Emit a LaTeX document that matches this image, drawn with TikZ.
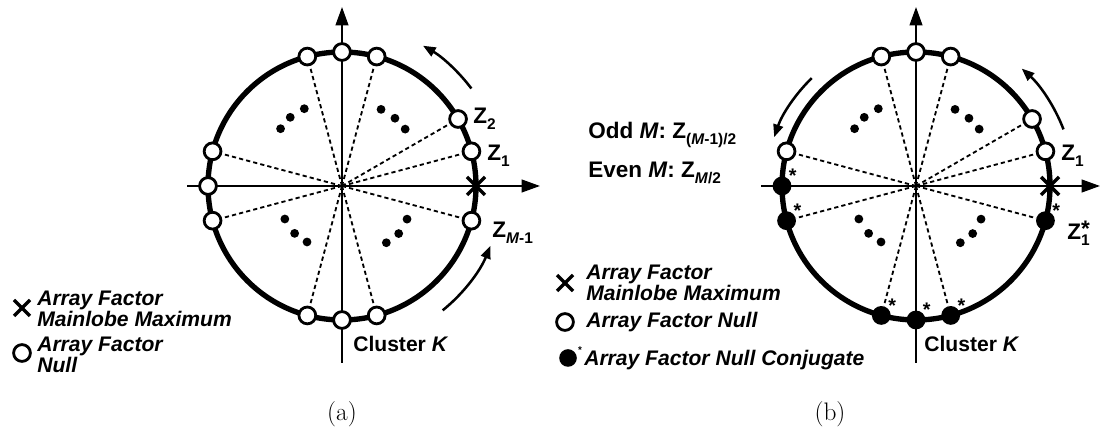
\documentclass[tikz,border=0pt]{standalone}
\usepackage{fontspec}
\usetikzlibrary{arrows.meta}
\newfontfamily\labelFont{Liberation Sans}
\tikzstyle{plane} = [x = 0.025cm, y = 0.025cm]
\tikzstyle{unitCircle} = [line width = 3.8pt]
\tikzstyle{axisLine} = [line width = 1.4pt, -{Triangle[length = 13pt, width = 9pt]}]
\tikzstyle{rayLine} = [line width = 1.3pt, dash pattern = on 3pt off 2.2pt]
\tikzstyle{turnArrow} = [line width = 1.8pt, -{Triangle[length = 9pt, width = 7pt]}]
\tikzstyle{nullStyle} = [circle, draw, fill = white, line width = 2pt, minimum size = .42cm, inner sep = 0pt]
\tikzstyle{conjugateStyle} = [circle, fill = black, minimum size = .47cm, inner sep = 0pt]
\tikzstyle{crossStyle} = [line width = 2.5pt]
\tikzstyle{zLabel} = [font = \labelFont\fontsize{16}{18}\selectfont\bfseries, inner sep = 0pt, anchor = base west]
\tikzstyle{clusterText} = [font = \labelFont\fontsize{15}{18}\selectfont\bfseries, inner sep = 0pt, anchor = west]
\tikzstyle{legendText} = [font = \labelFont\fontsize{15}{12.5}\selectfont\bfseries\itshape, align = left, inner sep = 0pt, anchor = west]
\tikzstyle{starText} = [font = \labelFont\fontsize{14}{14}\selectfont\bfseries, inner sep = 0pt]
\tikzstyle{captionText} = [font = \fontsize{18}{20}\selectfont, inner sep = 0pt]
\newcommand{\circleRadius}{134}
\newcommand{\zSub}[1]{\raisebox{-.5ex}{\fontsize{11}{11}\selectfont #1}}
\newcommand{\nullPoint}[2]{\node [nullStyle] (#1) at (#2:\circleRadius) {};}
\newcommand{\conjugatePoint}[2]{
  \node [conjugateStyle] (#1) at (#2:\circleRadius) {};
  \node [starText] (#1Star) at ([xshift = .27cm, yshift = .25cm]#1) {*};
}
\newcommand{\ray}[1]{\draw [rayLine] (origin) -- (#1);}
\newcommand{\crossMark}[2]{
  \draw [crossStyle] (#1) ++(-#2, -#2) -- ++(2 * #2, 2 * #2);
  \draw [crossStyle] (#1) ++(-#2, #2) -- ++(2 * #2, -2 * #2);
}
\newcommand{\clusterDots}{
  \foreach \dotAngle/\dotRadius in {42/85, 52/86, 63/86, 116/86, 127/86, 137/84, 210/66, 225/67, 238/66, 308/72, 320/74, 333/73} {
    \fill (\dotAngle:\dotRadius) circle (.11cm);
  }
}
\newcommand{\planeAxes}[1]{
  \draw [axisLine] (0, -177) -- (0, 179);
  \draw [axisLine] (-155, 0) -- (#1, 0);
}

\begin{document}
\begin{tikzpicture}[plane]
  \useasboundingbox (0, 0) rectangle (1104, 432);

  \begin{scope}[shift = {(342, 246)}, name prefix = a-]
    \coordinate (origin) at (0, 0);
    \planeAxes{198}
    \draw [unitCircle] (origin) circle (\circleRadius);
    \clusterDots
    \foreach \nullName/\nullAngle in {z1/15, z2/30, n75/75, n90/90, n105/105, n165/165, n180/180, n195/195, n255/255, n270/270, n285/285, zm1/345} {
      \nullPoint{\nullName}{\nullAngle}
    }
    \foreach \nullName in {z1, z2, n75, n105, n165, n195, n255, n285, zm1} {
      \ray{\nullName}
    }
    \coordinate (peak) at (0:\circleRadius);
    \crossMark{peak}{9}
    \draw [turnArrow] (37:162) arc (37:60:162);
    \draw [turnArrow] (-51:160) arc (-51:-22:160);
    \node [zLabel] (z2Text) at (131, 62) {Z\zSub{2}};
    \node [zLabel] (z1Text) at (145, 25) {Z\zSub{1}};
    \node [zLabel] (zm1Text) at (150, -52) {Z\zSub{\textit{M}-1}};
    \node [clusterText] (cluster) at (11, -158) {Cluster \textit{K}};
  \end{scope}

  \begin{scope}[shift = {(916, 246)}, name prefix = b-]
    \coordinate (origin) at (0, 0);
    \planeAxes{184}
    \draw [unitCircle] (origin) circle (\circleRadius);
    \clusterDots
    \foreach \nullName/\nullAngle in {z1/15, n30/30, n75/75, n90/90, n105/105, zHalf/165} {
      \nullPoint{\nullName}{\nullAngle}
    }
    \foreach \conjName/\conjAngle in {c180/180, c195/195, c255/255, c270/270, c285/285, z1Conj/345} {
      \conjugatePoint{\conjName}{\conjAngle}
    }
    \foreach \nullName in {z1, n30, n75, n105, zHalf, c195, c255, c285, z1Conj} {
      \ray{\nullName}
    }
    \coordinate (peak) at (0:\circleRadius);
    \crossMark{peak}{9}
    \draw [turnArrow] (21:158) arc (21:48:158);
    \draw [turnArrow] (134:150) arc (134:161:150);
    \node [zLabel, anchor = west] (oddText) at (-328, 51) {Odd \textit{M}: Z\zSub{(\textit{M}-1)/2}};
    \node [zLabel, anchor = west] (evenText) at (-328, 13) {Even \textit{M}: Z\zSub{\textit{M}/2}};
    \node [zLabel] (z1Text) at (145, 25) {Z\zSub{1}};
    \node [zLabel] (z1ConjText) at (151, -54) {Z\rlap{\raisebox{.3ex}{*}}\zSub{1}};
    \node [clusterText] (cluster) at (8, -158) {Cluster \textit{K}};
  \end{scope}

  \coordinate (legendPeakA) at (22, 124);
  \crossMark{legendPeakA}{8}
  \node [legendText] (legendPeakAText) at (37, 123) {Array Factor\\Mainlobe Maximum};
  \node [nullStyle] (legendNullA) at (22, 79) {};
  \node [legendText] (legendNullAText) at (37, 77) {Array Factor\\Null};

  \coordinate (legendPeakB) at (565, 149);
  \crossMark{legendPeakB}{8}
  \node [legendText] (legendPeakBText) at (586, 149) {Array Factor\\Mainlobe Maximum};
  \node [nullStyle] (legendNullB) at (565, 110) {};
  \node [legendText] (legendNullBText) at (586, 110) {Array Factor Null};
  \node [conjugateStyle, minimum size = .44cm] (legendConjB) at (568, 74) {};
  \node [starText, font = \labelFont\fontsize{7}{7}\selectfont\bfseries] (legendConjBStar) at ([xshift = .3cm, yshift = .2cm]legendConjB) {*};
  \node [legendText] (legendConjBText) at (584, 72) {Array Factor Null Conjugate};

  \node [captionText] (captionA) at (342, 18) {(a)};
  \node [captionText] (captionB) at (830, 18) {(b)};
\end{tikzpicture}
\end{document}
